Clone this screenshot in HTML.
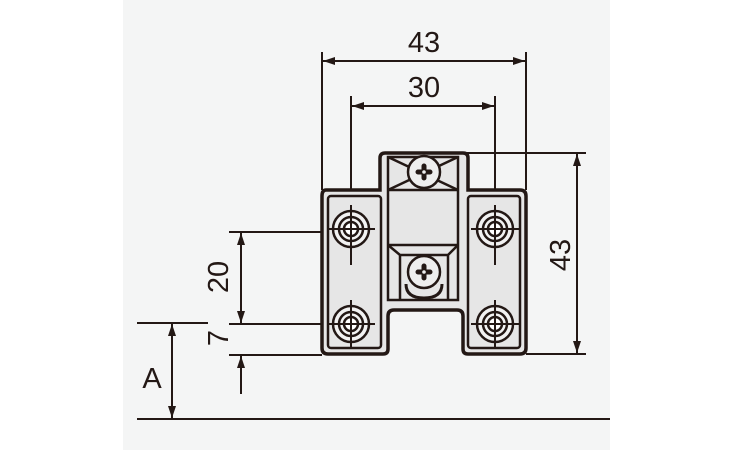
<!DOCTYPE html>
<html><head><meta charset="utf-8"><style>
html,body{margin:0;padding:0;background:#fff;}
svg{display:block;}
text{font-family:"Liberation Sans",sans-serif;fill:#231815;}
</style></head><body>
<svg width="750" height="450" viewBox="0 0 750 450" xmlns="http://www.w3.org/2000/svg">
<defs>
<marker id="a" viewBox="0 0 12 8" refX="12" refY="4" markerWidth="12" markerHeight="8" orient="auto-start-reverse" markerUnits="userSpaceOnUse"><path d="M0,0 L12,4 L0,8 Z" fill="#231815"/></marker>
</defs>
<rect x="123" y="0" width="487" height="450" fill="#f4f5f5"/>
<g stroke="#231815" fill="none" stroke-width="2">
<line x1="322" y1="52" x2="322" y2="190"/>
<line x1="526" y1="52" x2="526" y2="190"/>
<line x1="323" y1="61" x2="525" y2="61" marker-start="url(#a)" marker-end="url(#a)"/>
<line x1="351" y1="96" x2="351" y2="267"/>
<line x1="495" y1="96" x2="495" y2="267"/>
<line x1="352" y1="106" x2="494" y2="106" marker-start="url(#a)" marker-end="url(#a)"/>
<line x1="466" y1="153" x2="586" y2="153"/>
<line x1="526" y1="354" x2="586" y2="354"/>
<line x1="577" y1="154" x2="577" y2="353" marker-start="url(#a)" marker-end="url(#a)"/>
<line x1="229" y1="232" x2="351" y2="232"/>
<line x1="229" y1="324" x2="351" y2="324"/>
<line x1="229" y1="355" x2="322" y2="355"/>
<line x1="241" y1="233" x2="241" y2="323" marker-start="url(#a)" marker-end="url(#a)"/>
<line x1="241" y1="394" x2="241" y2="356" marker-end="url(#a)"/>
<line x1="137" y1="323" x2="208" y2="323"/>
<line x1="137" y1="419" x2="610" y2="419"/>
<line x1="172" y1="324" x2="172" y2="418" marker-start="url(#a)" marker-end="url(#a)"/>
</g>
<g stroke="#231815" stroke-width="3.5" fill="#e6e6e6">
<path d="M326,190 H380 V158 Q380,153 385,153 H463 Q468,153 468,158 V190 H520 Q526,190 526,196 V348 Q526,354 520,354 H468 Q463,354 463,349 V316 Q463,310 457,310 H394 Q388,310 388,316 V349 Q388,354 383,354 H328 Q322,354 322,348 V196 Q322,190 326,190 Z"/>
</g>
<g stroke="#231815" stroke-width="2.5" fill="none">
<rect x="328" y="196" width="53" height="152" rx="3"/>
<rect x="468" y="196" width="52" height="152" rx="3"/>
<rect x="388" y="157" width="70" height="143"/>
<line x1="388" y1="190" x2="458" y2="190"/>
<line x1="388" y1="245" x2="458" y2="245"/>
<path d="M388,157 L458,190 M458,157 L388,190"/>
<path d="M388,245 L400,255 H448 L458,245 M400,255 V300 M448,255 V300"/>
<path d="M406,284 Q406,298 424,298 Q442,298 442,284" stroke-width="3"/>
</g>
<g stroke="#231815" stroke-width="2.5" fill="#eeeeee">
<circle cx="424" cy="172" r="16"/>
<circle cx="424" cy="272" r="16"/>
</g>
<g stroke="#231815" stroke-width="5" stroke-linecap="round">
<path d="M418,172 H430 M424,166 V178"/>
<path d="M418,272 H430 M424,266 V278"/>
</g>
<g fill="#eeeeee"><circle cx="424" cy="172" r="1.8"/><circle cx="424" cy="272" r="1.8"/></g>
<g stroke="#231815" stroke-width="2.5" fill="#f2f2f2">
<g transform="translate(351,229)"><circle r="18"/><circle r="12"/><circle r="7" fill="#fff"/><path d="M-24,0 H24 M0,-24 V36" fill="none" stroke-width="2"/></g>
<g transform="translate(495,229)"><circle r="18"/><circle r="12"/><circle r="7" fill="#fff"/><path d="M-24,0 H24 M0,-24 V36" fill="none" stroke-width="2"/></g>
<g transform="translate(351,324)"><circle r="18"/><circle r="12"/><circle r="7" fill="#fff"/><path d="M-24,0 H24 M0,-24 V24" fill="none" stroke-width="2"/></g>
<g transform="translate(495,324)"><circle r="18"/><circle r="12"/><circle r="7" fill="#fff"/><path d="M-24,0 H24 M0,-24 V24" fill="none" stroke-width="2"/></g>
</g>
<g font-size="29" text-anchor="middle">
<text x="424" y="52">43</text>
<text x="424" y="97">30</text>
<text transform="translate(570,255) rotate(-90)">43</text>
<text transform="translate(228,277) rotate(-90)">20</text>
<text transform="translate(228,338) rotate(-90)">7</text>
<text x="152" y="388">A</text>
</g>
</svg>
</body></html>
